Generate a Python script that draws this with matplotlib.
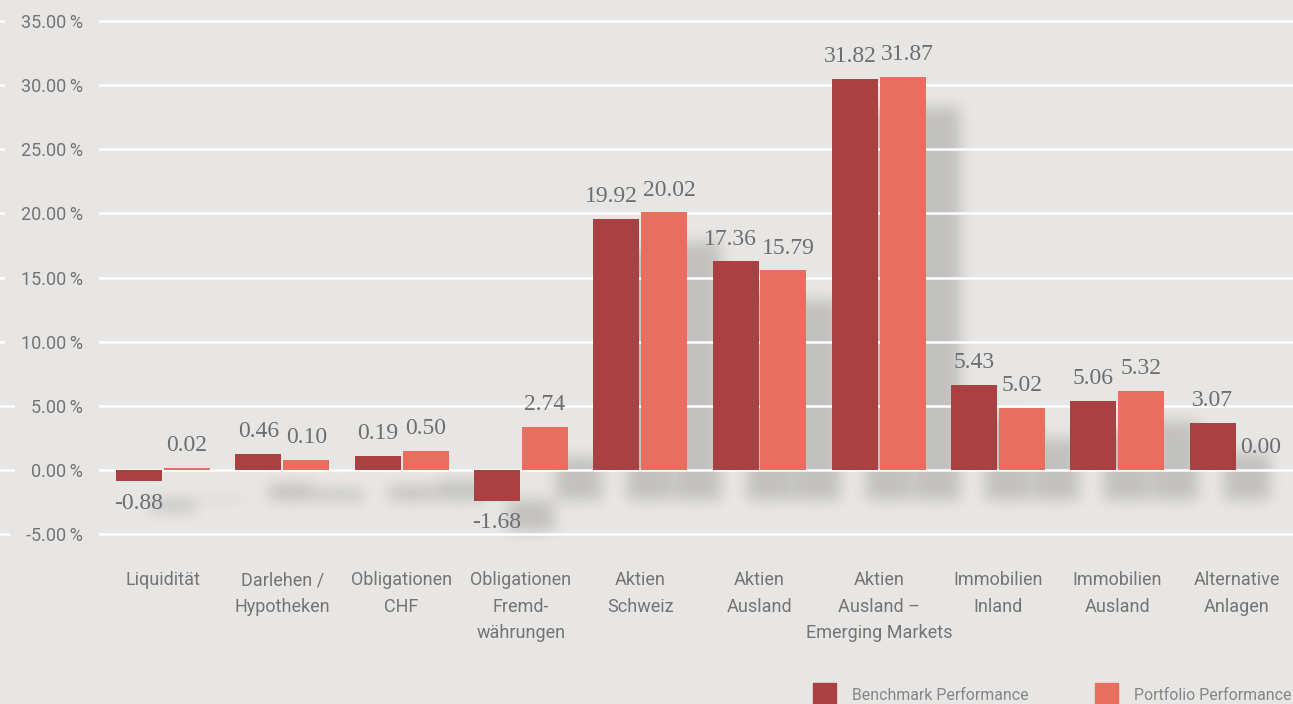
import numpy as np
import matplotlib
matplotlib.use("Agg")
import matplotlib.pyplot as plt
from matplotlib.patches import Rectangle
from matplotlib.transforms import ScaledTranslation

# Kategorien und Werte
kategorien = ["Liquidität", "Darlehen /\nHypotheken", "Obligationen\nCHF",
              "Obligationen\nFremd-\nwährungen", "Aktien\nSchweiz", "Aktien\nAusland",
              "Aktien\nAusland –\nEmerging Markets", "Immobilien\nInland",
              "Immobilien\nAusland", "Alternative\nAnlagen"]
# Beschriftete Werte (%)
benchmark_werte = [-0.88, 0.46, 0.19, -1.68, 19.92, 17.36, 31.82, 5.43, 5.06, 3.07]
portfolio_werte = [0.02, 0.10, 0.50, 2.74, 20.02, 15.79, 31.87, 5.02, 5.32, 0.00]
# Balkenhöhen wie im Bild gezeichnet (%)
benchmark_balken = [-0.85, 1.25, 1.09, -2.39, 19.6, 16.26, 30.5, 6.61, 5.37, 3.66]
portfolio_balken = [0.15, 0.78, 1.48, 3.35, 20.08, 15.56, 30.66, 4.82, 6.15, 0.0]
y_ticks = [-5, 0, 5, 10, 15, 20, 25, 30, 35]

bg = "#e7e6e4"
c_bench = "#a94142"
c_port = "#e86e5f"
grau = "#6e6e6e"

W, H = 1293, 704
fig = plt.figure(figsize=(W / 100, H / 100), dpi=100)
fig.patch.set_facecolor(bg)
ax = fig.add_axes([0, 144 / H, 1, 560 / H])
ax.set_facecolor(bg)

px_pro_prozent = 449 / 35
ax.set_ylim(-90 / px_pro_prozent, 35 + 21 / px_pro_prozent)
abstand = 119.3
ax.set_xlim(-163 / abstand, (W - 163) / abstand)

x = np.arange(len(kategorien))
breite = 46 / abstand
versatz = 24 / abstand


def blur(im, dpi):
    pad = 24
    a = np.pad(im, ((pad, pad), (pad, pad), (0, 0)))
    s = 7.0
    xs = np.arange(-int(3 * s), int(3 * s) + 1)
    k = np.exp(-xs ** 2 / (2 * s * s))
    k /= k.sum()
    a = np.apply_along_axis(lambda m: np.convolve(m, k, mode="same"), 0, a)
    a = np.apply_along_axis(lambda m: np.convolve(m, k, mode="same"), 1, a)
    return a, -pad, -pad


# Schatten
schatten_trans = ax.transData + ScaledTranslation(34 / 100, -30 / 100, fig.dpi_scale_trans)
for werte, dx in [(benchmark_balken, -versatz), (portfolio_balken, versatz)]:
    sb = ax.bar(x + dx, werte, width=breite, color="black", alpha=0.16,
                zorder=0.3, linewidth=0)
    for p in sb:
        p.set_transform(schatten_trans)
        p.set_agg_filter(blur)
        p.set_clip_on(False)

ax.bar(x - versatz, benchmark_balken, width=breite, color=c_bench, zorder=2, linewidth=0)
ax.bar(x + versatz, portfolio_balken, width=breite, color=c_port, zorder=2, linewidth=0)

# Wertbeschriftungen
for werte, balken, dx, seite in [(benchmark_werte, benchmark_balken, -versatz, -1),
                                 (portfolio_werte, portfolio_balken, versatz, 1)]:
    for xi, v, b in zip(x, werte, balken):
        txt = f"{v:.2f}"
        off = -16 if b < 0 else 16
        xoff = seite * 3.5 if len(txt.lstrip("-")) > 4 else 0
        ax.annotate(txt, (xi + dx, b), xytext=(xoff, off), textcoords="offset points",
                    ha="center", va="center", fontsize=17, color=grau,
                    family=["Liberation Serif", "DejaVu Serif"], zorder=3)

# Achsen
ax.set_axisbelow(True)
ax.yaxis.grid(True, color="white", linewidth=1.8)
ax.xaxis.grid(False)
for s in ax.spines.values():
    s.set_visible(False)
ax.set_yticks(y_ticks)
ax.set_yticklabels([f"{v:.2f}\u2009%" for v in y_ticks])
ax.tick_params(axis="y", length=0, pad=-59.8, labelsize=13, labelcolor="#747474")
for lbl in ax.get_yticklabels():
    lbl.set_family(["Roboto", "DejaVu Sans"])
    lbl.set_bbox(dict(boxstyle="square,pad=0.9", fc=bg, ec="none"))

ax.set_xticks(x)
ax.set_xticklabels(kategorien, linespacing=1.62)
ax.tick_params(axis="x", length=0, pad=8, labelsize=13, labelcolor="#747474")
for lbl in ax.get_xticklabels():
    lbl.set_family(["Roboto", "DejaVu Sans"])

# Legende
for x0, farbe, text in [(813, c_bench, "Benchmark Performance"),
                        (1095, c_port, "Portfolio Performance")]:
    fig.add_artist(Rectangle((x0 / W, (H - 706) / H), 23 / W, 23 / H,
                             transform=fig.transFigure, color=farbe, clip_on=False))
    fig.text((x0 + 39) / W, (H - 695) / H, text, ha="left", va="center",
             fontsize=11.4, color="#858585", family=["Roboto", "DejaVu Sans"])

fig.savefig("out.png", dpi=100, facecolor=bg)
